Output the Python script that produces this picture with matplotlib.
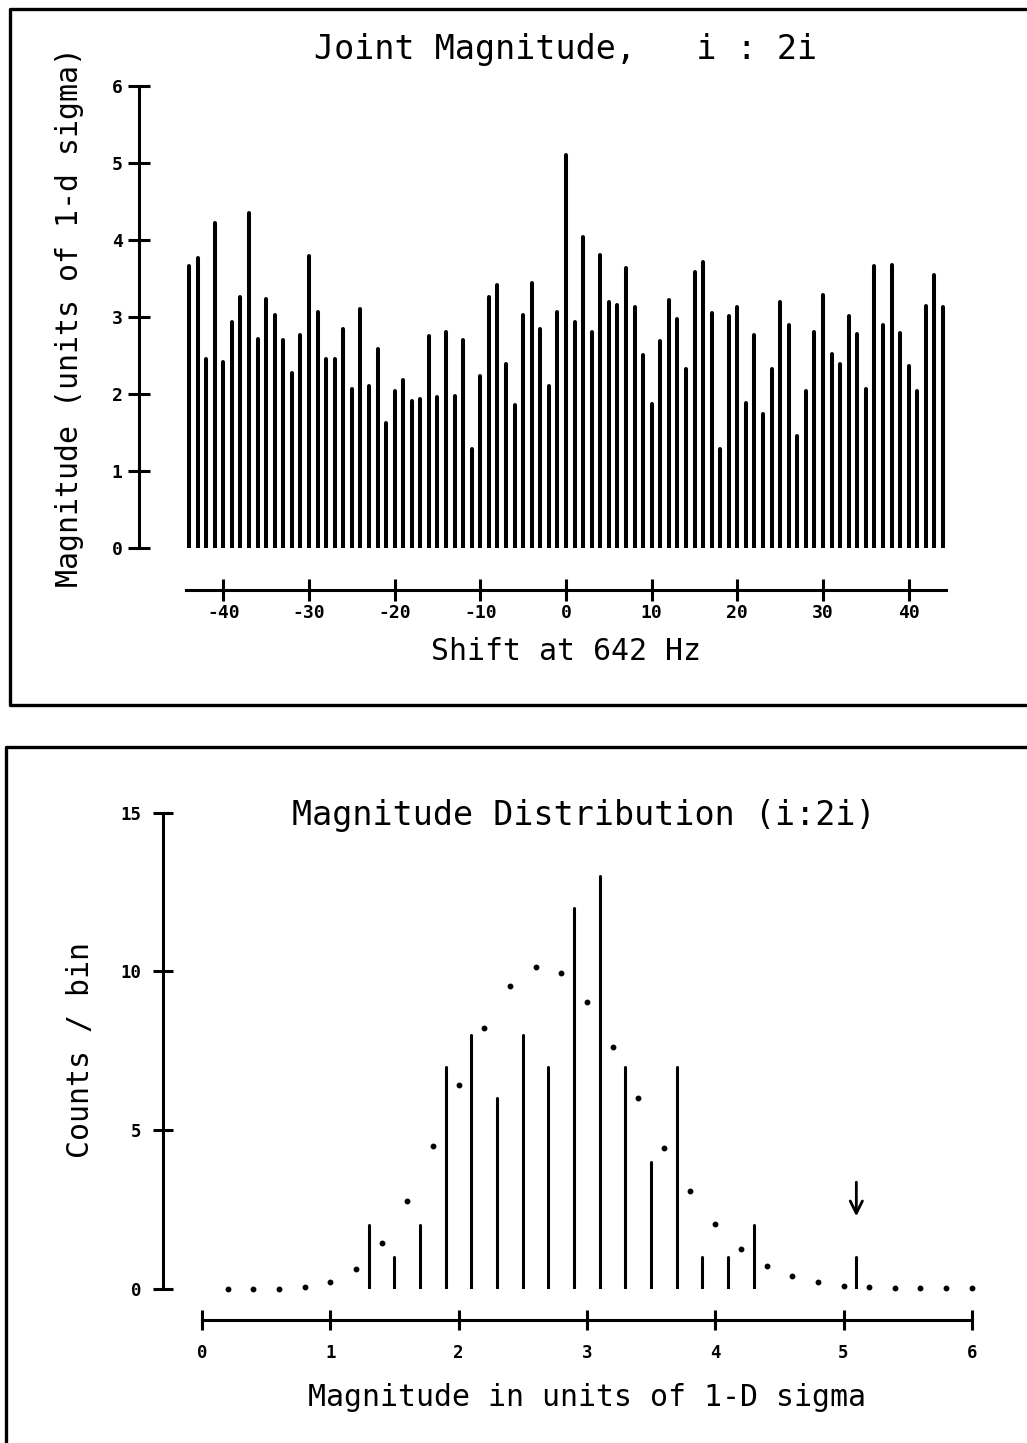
import matplotlib
matplotlib.use("Agg")
import matplotlib.pyplot as plt
from matplotlib.lines import Line2D

W, H = 1027, 1443

# joint magnitude per shift bin (-44 .. 44)
shifts = list(range(-44, 45))
mags = [3.66, 3.77, 2.46, 4.22, 2.41, 2.94, 3.26, 4.35, 2.71, 3.24,
        3.03, 2.70, 2.27, 2.77, 3.79, 3.07, 2.45, 2.45, 2.85, 2.06,
        3.11, 2.11, 2.58, 1.62, 2.04, 2.18, 1.91, 1.94, 2.75, 1.96,
        2.80, 1.97, 2.70, 1.28, 2.23, 3.26, 3.42, 2.39, 1.86, 3.03,
        3.44, 2.85, 2.10, 3.06,
        5.10,
        2.94, 4.04, 2.81, 3.80, 3.20, 3.15, 3.63, 3.13, 2.50, 1.87,
        2.69, 3.22, 2.98, 2.33, 3.58, 3.71, 3.05, 1.28, 3.01, 3.13,
        1.88, 2.77, 1.74, 2.33, 3.19, 2.90, 1.45, 2.04, 2.80, 3.28,
        2.52, 2.39, 3.01, 2.78, 2.07, 3.66, 2.90, 3.68, 2.79, 2.37,
        2.04, 3.14, 3.54, 3.13]

# histogram of the magnitudes (non-empty bins only)
bin_centers = [1.3, 1.5, 1.7, 1.9, 2.1, 2.3, 2.5, 2.7, 2.9, 3.1,
               3.3, 3.5, 3.7, 3.9, 4.1, 4.3, 5.1]
bin_counts = [2, 1, 2, 7, 8, 6, 8, 7, 12, 13, 7, 4, 7, 1, 1, 2, 1]

# expected counts
exp_x = [0.2, 0.4, 0.6, 0.8, 1.0, 1.2, 1.4, 1.6, 1.8, 2.0,
         2.2, 2.4, 2.6, 2.8, 3.0, 3.2, 3.4, 3.6, 3.8, 4.0,
         4.2, 4.4, 4.6, 4.8, 5.0, 5.2, 5.4, 5.6, 5.8, 6.0]
exp_y = [0.0, 0.0, 0.0, 0.05, 0.21, 0.64, 1.46, 2.76, 4.49, 6.42,
         8.22, 9.53, 10.15, 9.94, 9.02, 7.63, 6.02, 4.45, 3.10, 2.05,
         1.27, 0.71, 0.40, 0.22, 0.10, 0.05, 0.02, 0.02, 0.02, 0.02]

top_yticks = [0, 1, 2, 3, 4, 5, 6]
top_xticks = [-40, -30, -20, -10, 0, 10, 20, 30, 40]
bot_yticks = [0, 5, 10, 15]
bot_xticks = [0, 1, 2, 3, 4, 5, 6]

MONO = "DejaVu Sans Mono"
PX = 0.72  # points per pixel at dpi 100

plt.rcParams["axes.unicode_minus"] = False

fig = plt.figure(figsize=(W / 100, H / 100), dpi=100)
fig.patch.set_facecolor("white")


def px_axes(left, top, right, bottom):
    return fig.add_axes([left / W, 1 - bottom / H, (right - left) / W, (bottom - top) / H])


def fig_text(x, y, s, **kw):
    fig.text(x / W, 1 - y / H, s, ha="center", va="center", family=MONO, **kw)


def fig_line(xs, ys, lw=2.2):
    fig.add_artist(Line2D([x / W for x in xs], [1 - y / H for y in ys],
                          color="black", lw=lw, transform=fig.transFigure))


def style_axes(ax, out_px, xbounds, ybounds, tick_px, ypad, xpad, fsize):
    for s in ["top", "right"]:
        ax.spines[s].set_visible(False)
    ax.spines["left"].set_bounds(*ybounds)
    ax.spines["bottom"].set_bounds(*xbounds)
    ax.spines["bottom"].set_position(("outward", out_px * PX))
    for s in ["left", "bottom"]:
        ax.spines[s].set_linewidth(2.2)
    ax.tick_params(axis="y", direction="inout", length=tick_px * PX, width=2.2, pad=ypad)
    ax.tick_params(axis="x", direction="inout", length=tick_px * PX, width=2.2, pad=xpad)
    for lab in ax.get_xticklabels() + ax.get_yticklabels():
        lab.set_fontfamily(MONO)
        lab.set_fontweight("bold")
        lab.set_fontsize(fsize)
    ax.patch.set_visible(False)


# top panel: magnitude vs shift
ax1 = px_axes(139, 86, 960, 548)
ax1.vlines(shifts, 0, mags, colors="black", lw=2.9, capstyle="round")
ax1.set_xlim((139 - 566) / 8.568, (960 - 566) / 8.568)
ax1.set_ylim(0, 6)
ax1.set_xticks(top_xticks)
ax1.set_yticks(top_yticks)
style_axes(ax1, 42, (-44.3, 44.3), (0, 6), 22, 4, 2, 13)

fig_text(566, 50, "Joint Magnitude,   i : 2i", fontsize=24)
fig_text(566, 652, "Shift at 642 Hz", fontsize=21.5)
fig_text(70, 317, "Magnitude (units of 1-d sigma)", fontsize=21.5, rotation=90)

# bottom panel: distribution of magnitudes
ax2 = px_axes(162.7, 812.5, 990, 1289)
ax2.vlines(bin_centers, 0, bin_counts, colors="black", lw=2.2, capstyle="round")
ax2.plot(exp_x, exp_y, "o", color="black", ms=3.2, clip_on=False)
ax2.annotate("", xy=(5.1, 2.2), xytext=(5.1, 3.45),
             arrowprops=dict(arrowstyle="->", lw=2, color="black", mutation_scale=22))
ax2.set_xlim((162.7 - 202) / 128.3, (990 - 202) / 128.3)
ax2.set_ylim(0, 15)
ax2.set_xticks(bot_xticks)
ax2.set_yticks(bot_yticks)
style_axes(ax2, 31, (0, 6), (0, 15), 20, 8, 10, 12.5)

fig_text(584, 815, "Magnitude Distribution (i:2i)", fontsize=24)
fig_text(587, 1398, "Magnitude in units of 1-D sigma", fontsize=21.5)
fig_text(80, 1050, "Counts / bin", fontsize=21.5, rotation=90)

# panel frames
fig_line([1030, 10, 10, 1030], [9, 9, 705, 705], lw=2.4)
fig_line([1030, 6, 6], [747, 747, 1450], lw=2.4)

fig.savefig("out.png", dpi=100)
